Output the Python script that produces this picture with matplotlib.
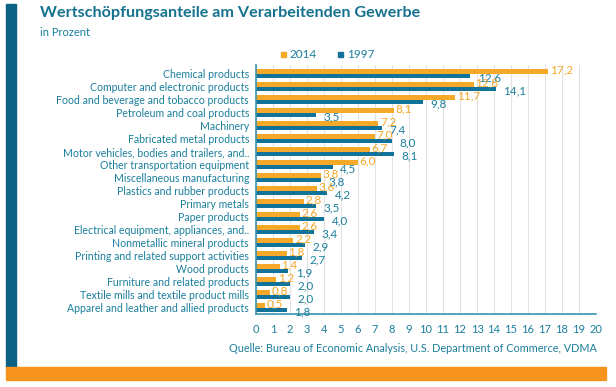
import numpy as np
import matplotlib
matplotlib.use("Agg")
import matplotlib.pyplot as plt
from matplotlib.patches import Rectangle

plt.rcParams['font.family'] = ['Lato', 'DejaVu Sans']

categories = [
    "Chemical products",
    "Computer and electronic products",
    "Food and beverage and tobacco products",
    "Petroleum and coal products",
    "Machinery",
    "Fabricated metal products",
    "Motor vehicles, bodies and trailers, and..",
    "Other transportation equipment",
    "Miscellaneous manufacturing",
    "Plastics and rubber products",
    "Primary metals",
    "Paper products",
    "Electrical equipment, appliances, and..",
    "Nonmetallic mineral products",
    "Printing and related support activities",
    "Wood products",
    "Furniture and related products",
    "Textile mills and textile product mills",
    "Apparel and leather and allied products",
]
values_2014 = [17.2, 12.8, 11.7, 8.1, 7.2, 7.0, 6.7, 6.0, 3.8, 3.6,
               2.8, 2.6, 2.6, 2.2, 1.8, 1.4, 1.2, 0.8, 0.5]
values_1997 = [12.6, 14.1, 9.8, 3.5, 7.4, 8.0, 8.1, 4.5, 3.8, 4.2,
               3.5, 4.0, 3.4, 2.9, 2.7, 1.9, 2.0, 2.0, 1.8]
x_ticks = list(range(0, 21))

ORANGE = "#f6a828"
BLUE = "#12739a"
TEAL = "#1a7f9c"
DARK = "#0c6283"
BAND = "#f7941d"

fig = plt.figure(figsize=(6.16, 3.87), dpi=100)
W, H = 616, 387

# decorative frame
fig.patches.append(Rectangle((6 / W, (H - 367) / H), 10 / W, 363 / H,
                             transform=fig.transFigure, color=DARK, zorder=0))
fig.patches.append(Rectangle((6 / W, (H - 380) / H), 600 / W, 13 / H,
                             transform=fig.transFigure, color=BAND, zorder=0))

ax = fig.add_axes([256 / W, 73 / H, 340 / W, 249 / H])
y = np.arange(len(categories))
h = 0.33
ax.barh(y - 0.165, values_2014, height=h, color=ORANGE, zorder=2)
ax.barh(y + 0.165, values_1997, height=h, color=BLUE, zorder=2)

for i, (a, b) in enumerate(zip(values_2014, values_1997)):
    ax.text(a + 0.1, i - 0.28, f"{a:.1f}".replace(".", ","), color=ORANGE,
            fontsize=8.5, va="center", ha="left", zorder=3)
    ax.text(b + 0.45, i + 0.3, f"{b:.1f}".replace(".", ","), color=TEAL,
            fontsize=8.5, va="center", ha="left", zorder=3)

ax.set_xlim(0, 20)
ax.set_ylim(18.49, -0.66)
ax.set_yticks(y)
ax.set_yticklabels(categories)
ax.set_xticks(x_ticks)
ax.grid(axis="x", color="#e2e2e2", linewidth=0.8, zorder=0)
ax.tick_params(axis="both", length=0, labelsize=7.6, labelcolor=TEAL)
ax.tick_params(axis="x", labelsize=8, pad=7)
ax.tick_params(axis="y", pad=5)
for side in ["top", "right"]:
    ax.spines[side].set_visible(False)
for side in ["left", "bottom"]:
    ax.spines[side].set_color("#3a93ad")
    ax.spines[side].set_linewidth(1.2)

fig.text(40 / W, 1 - 13 / H, "Wertschöpfungsanteile am Verarbeitenden Gewerbe",
         fontsize=11.6, fontweight="bold", color="#15728f", va="center", ha="left")
fig.text(40 / W, 1 - 33 / H, "in Prozent", fontsize=8, color=TEAL,
         va="center", ha="left")

# legend
fig.patches.append(Rectangle((281 / W, 1 - 57 / H), 5 / W, 5 / H,
                             transform=fig.transFigure, color=ORANGE))
fig.text(290 / W, 1 - 55 / H, "2014", fontsize=8.5, color=TEAL, va="center")
fig.patches.append(Rectangle((338 / W, 1 - 57 / H), 5 / W, 5 / H,
                             transform=fig.transFigure, color=BLUE))
fig.text(347 / W, 1 - 55 / H, "1997", fontsize=8.5, color=TEAL, va="center")

fig.text(597 / W, 1 - 348 / H,
         "Quelle: Bureau of Economic Analysis, U.S. Department of Commerce, VDMA",
         fontsize=7.8, color=TEAL, va="center", ha="right")

fig.savefig("out.png", dpi=100)
